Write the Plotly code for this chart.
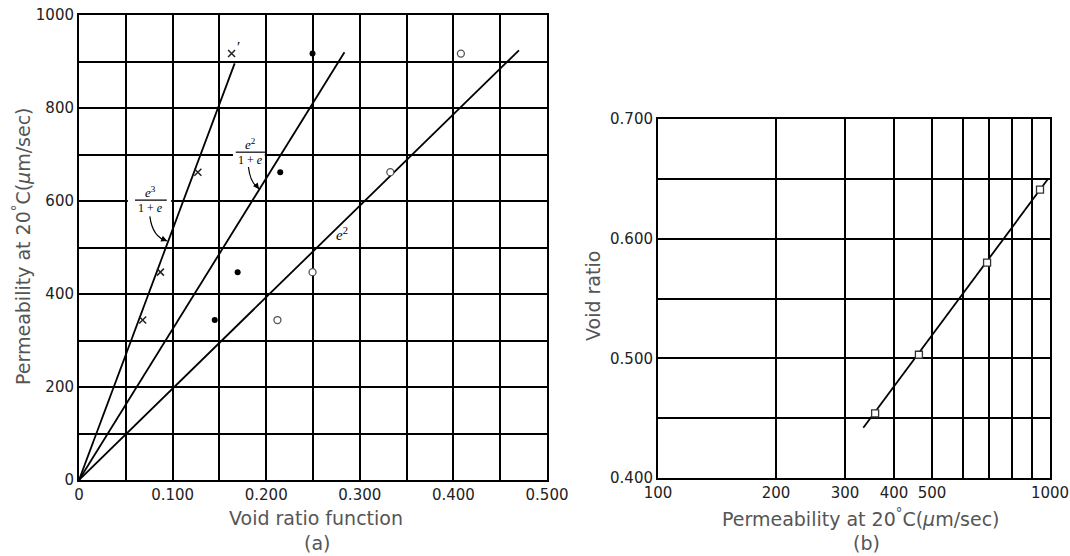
import plotly.graph_objects as go

# ---- panel (a): permeability against void ratio function ----
perm_a = [344, 447, 662, 917]
x_e3_1pe = [0.068, 0.087, 0.127, 0.163]      # e^3/(1+e)
x_e2_1pe = [0.145, 0.1695, 0.215, 0.2495]    # e^2/(1+e)
x_e2 = [0.212, 0.2495, 0.3326, 0.408]        # e^2

# fitted straight lines through the origin (end points)
fit_e3_1pe_x = [0, 0.1663]
fit_e3_1pe_y = [0, 896]
fit_e2_1pe_x = [0, 0.2836]
fit_e2_1pe_y = [0, 920]
fit_e2_x = [0, 0.470]
fit_e2_y = [0, 924]

xa_ticks = [0, 0.05, 0.1, 0.15, 0.2, 0.25, 0.3, 0.35, 0.4, 0.45, 0.5]
xa_labels = ["0", "", "0.100", "", "0.200", "", "0.300", "", "0.400", "", "0.500"]
ya_ticks = [0, 100, 200, 300, 400, 500, 600, 700, 800, 900, 1000]
ya_labels = ["0", "", "200", "", "400", "", "600", "", "800", "", "1000"]

# ---- panel (b): void ratio against permeability (log scale) ----
perm_b = [358, 463, 691, 943]
void_b = [0.454, 0.503, 0.580, 0.641]
fit_b_x = [334, 989]
fit_b_y = [0.442, 0.650]

xb_ticks = [100, 200, 300, 400, 500, 600, 700, 800, 900, 1000]
xb_labels = ["100", "200", "300", "400", "500", "", "", "", "", "1000"]
yb_ticks = [0.40, 0.45, 0.50, 0.55, 0.60, 0.65, 0.70]
yb_labels = ["0.400", "", "0.500", "", "0.600", "", "0.700"]

W, H = 1070, 556
TICK_FONT = dict(family="DejaVu Sans", size=15, color="#222222")
TITLE_FONT = dict(family="DejaVu Sans", size=19, color="#555555")
LABEL_FONT = dict(family="Liberation Serif", size=13, color="#000000")
SMALL_FONT = dict(family="Liberation Serif", size=12, color="#000000")

fig = go.Figure()

line_style = dict(color="black", width=1.8)

for fx, fy in [(fit_e3_1pe_x, fit_e3_1pe_y), (fit_e2_1pe_x, fit_e2_1pe_y), (fit_e2_x, fit_e2_y)]:
    fig.add_trace(go.Scatter(x=fx, y=fy, mode="lines", line=line_style,
                             xaxis="x", yaxis="y", showlegend=False, hoverinfo="skip"))

fig.add_trace(go.Scatter(x=x_e3_1pe, y=perm_a, mode="markers", xaxis="x", yaxis="y",
                         marker=dict(symbol="x-thin", size=7, line=dict(color="#222", width=1.5)),
                         showlegend=False))
fig.add_trace(go.Scatter(x=x_e2_1pe, y=perm_a, mode="markers", xaxis="x", yaxis="y",
                         marker=dict(symbol="circle", size=6, color="black"),
                         showlegend=False))
fig.add_trace(go.Scatter(x=x_e2, y=perm_a, mode="markers", xaxis="x", yaxis="y",
                         marker=dict(symbol="circle", size=7, color="white",
                                     line=dict(color="#555", width=1.3)),
                         showlegend=False))

fig.add_trace(go.Scatter(x=fit_b_x, y=fit_b_y, mode="lines", line=line_style,
                         xaxis="x2", yaxis="y2", showlegend=False, hoverinfo="skip"))
fig.add_trace(go.Scatter(x=perm_b, y=void_b, mode="markers", xaxis="x2", yaxis="y2",
                         marker=dict(symbol="square", size=7, color="white",
                                     line=dict(color="#333", width=1.3)),
                         showlegend=False))

axis_common = dict(showgrid=True, gridcolor="black", gridwidth=2,
                   showline=True, linecolor="black", linewidth=2, mirror=True,
                   ticks="", zeroline=False, tickfont=TICK_FONT, fixedrange=True,
                   automargin=False)

fig.update_layout(
    width=W, height=H,
    margin=dict(l=0, r=0, t=0, b=0, pad=0, autoexpand=False),
    paper_bgcolor="white", plot_bgcolor="white",
    showlegend=False,
    xaxis=dict(domain=[79 / W, 547 / W], range=[0, 0.5], anchor="y",
               tickmode="array", tickvals=xa_ticks, ticktext=xa_labels, **axis_common),
    yaxis=dict(domain=[(H - 480) / H, (H - 15) / H], range=[0, 1000], anchor="x",
               tickmode="array", tickvals=ya_ticks, ticktext=ya_labels, **axis_common),
    xaxis2=dict(domain=[658 / W, 1050 / W], type="log", range=[2, 3], anchor="y2",
                tickmode="array", tickvals=xb_ticks, ticktext=xb_labels, **axis_common),
    yaxis2=dict(domain=[(H - 478) / H, (H - 119) / H], range=[0.4, 0.7], anchor="x2",
                tickmode="array", tickvals=yb_ticks, ticktext=yb_labels, **axis_common),
)

annotations = []


def paper_text(text, px, py, angle=0):
    annotations.append(dict(text=text, x=px / W, y=1 - py / H, xref="paper", yref="paper",
                            showarrow=False, textangle=angle, font=TITLE_FONT,
                            xanchor="center", yanchor="middle"))


# axis titles and panel captions
paper_text("Void ratio function", 316, 518)
paper_text("(a)", 317, 543)
paper_text("Permeability at 20<sup>°</sup>C(<i>μ</i>m/sec)", 22, 246, -90)
paper_text("Permeability at 20<sup>°</sup>C(<i>μ</i>m/sec)", 861, 518)
paper_text("(b)", 867, 543)
paper_text("Void ratio", 593, 296, -90)


def fraction(num, cx, cy, x0, x1, half_h, bar_half):
    # white patch behind the label, then bar, numerator and denominator
    fig.add_shape(type="rect", xref="x", yref="y", x0=x0, x1=x1,
                  y0=cy - half_h, y1=cy + half_h, fillcolor="white",
                  line=dict(width=0), layer="above")
    fig.add_shape(type="line", xref="x", yref="y", x0=cx - bar_half, x1=cx + bar_half,
                  y0=cy, y1=cy, line=dict(color="black", width=1.2), layer="above")
    annotations.append(dict(text=num, x=cx, y=cy, xref="x", yref="y", showarrow=False,
                            font=LABEL_FONT, yanchor="bottom", yshift=-2))
    annotations.append(dict(text="1 + <i>e</i>", x=cx, y=cy, xref="x", yref="y",
                            showarrow=False, font=SMALL_FONT, yanchor="top", yshift=1))


fraction("<i>e</i><sup>3</sup>", 0.0768, 602, 0.0522, 0.0985, 32, 0.017)
fraction("<i>e</i><sup>2</sup>", 0.1835, 705, 0.1645, 0.1985, 30, 0.016)

annotations.append(dict(text="<i>e</i><sup>2</sup>", x=0.2815, y=530, xref="x", yref="y",
                        showarrow=False, font=dict(family="Liberation Serif", size=15, color="#000")))
annotations.append(dict(text="′", x=0.170, y=932, xref="x", yref="y",
                        showarrow=False, font=dict(family="Liberation Serif", size=15, color="#000")))

# arrowheads of the curved pointers
annotations.append(dict(text="", x=0.0942, y=514, xref="x", yref="y", showarrow=True,
                        arrowhead=2, arrowsize=1, arrowwidth=1.2, arrowcolor="black",
                        ax=-7, ay=-3, standoff=0))
annotations.append(dict(text="", x=0.1925, y=626, xref="x", yref="y", showarrow=True,
                        arrowhead=2, arrowsize=1, arrowwidth=1.2, arrowcolor="black",
                        ax=-5, ay=-6, standoff=0))

fig.update_layout(annotations=annotations)

# curved pointer stems
fig.add_shape(type="path", xref="x", yref="y",
              path="M 0.0757,567 Q 0.0785,522 0.0942,514",
              line=dict(color="black", width=1.2))
fig.add_shape(type="path", xref="x", yref="y",
              path="M 0.1810,673 Q 0.1830,638 0.1925,626",
              line=dict(color="black", width=1.2))

fig.write_html("out.html")
